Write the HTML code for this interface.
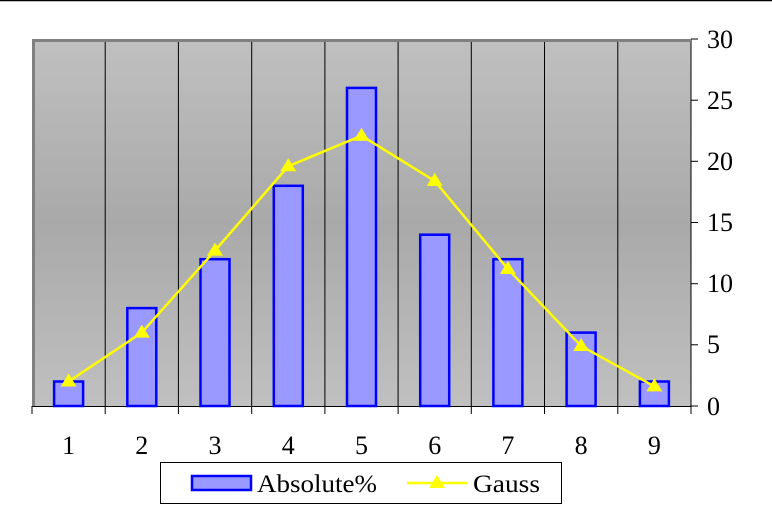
<!DOCTYPE html>
<html><head><style>body{margin:0;background:#fff}svg{display:block}</style></head><body>
<svg width="772" height="511" xmlns="http://www.w3.org/2000/svg" font-family="Liberation Serif, serif">
<defs><linearGradient id="g" x1="0" y1="0" x2="0" y2="1">
<stop offset="0" stop-color="#c0c0c0"/><stop offset="0.5" stop-color="#a9a9a9"/><stop offset="1" stop-color="#c0c0c0"/></linearGradient></defs>
<line x1="0" y1="0.5" x2="772" y2="0.5" stroke="#000" stroke-width="1.5"/>
<rect x="32" y="39" width="659" height="367" fill="url(#g)"/>
<g stroke="#000" stroke-width="1">
<line x1="105.2" y1="39" x2="105.2" y2="414"/><line x1="178.4" y1="39" x2="178.4" y2="414"/>
<line x1="251.7" y1="39" x2="251.7" y2="414"/><line x1="324.9" y1="39" x2="324.9" y2="414"/>
<line x1="398.1" y1="39" x2="398.1" y2="414"/><line x1="471.3" y1="39" x2="471.3" y2="414"/>
<line x1="544.5" y1="39" x2="544.5" y2="414"/><line x1="617.8" y1="39" x2="617.8" y2="414"/>
<line x1="32" y1="406" x2="32" y2="414"/><line x1="691" y1="406" x2="691" y2="414"/>
<line x1="32" y1="406.5" x2="691" y2="406.5"/>
<line x1="691" y1="39" x2="691" y2="407"/>
<line x1="691" y1="39" x2="698" y2="39"/><line x1="691" y1="100.2" x2="698" y2="100.2"/>
<line x1="691" y1="161.3" x2="698" y2="161.3"/><line x1="691" y1="222.5" x2="698" y2="222.5"/>
<line x1="691" y1="283.7" x2="698" y2="283.7"/><line x1="691" y1="344.8" x2="698" y2="344.8"/>
<line x1="691" y1="406" x2="698" y2="406"/>
</g>
<path d="M33.5 406 V40.5 H691" fill="none" stroke="#808080" stroke-width="3"/>
<g fill="#9999ff" stroke="#0000ff" stroke-width="2.5">
<rect x="54.1" y="381.5" width="29" height="24.5"/>
<rect x="127.3" y="308.1" width="29" height="97.9"/>
<rect x="200.5" y="259.2" width="29" height="146.8"/>
<rect x="273.8" y="185.8" width="29" height="220.2"/>
<rect x="347" y="87.9" width="29" height="318.1"/>
<rect x="420.2" y="234.7" width="29" height="171.3"/>
<rect x="493.4" y="259.2" width="29" height="146.8"/>
<rect x="566.6" y="332.6" width="29" height="73.4"/>
<rect x="639.9" y="381.5" width="29" height="24.5"/>
</g>
<polyline fill="none" stroke="#ffff00" stroke-width="2.5" points="68.6,381.5 141.8,332.6 215,250.6 288.3,166.2 361.5,135.7 434.7,180.9 507.9,269 581.1,346 654.4,386.4"/>
<g fill="#ffff00">
<path d="M68.6 373.5l8 13h-16z"/><path d="M141.8 324.6l8 13h-16z"/><path d="M215 242.6l8 13h-16z"/>
<path d="M288.3 158.2l8 13h-16z"/><path d="M361.5 127.7l8 13h-16z"/><path d="M434.7 172.9l8 13h-16z"/>
<path d="M507.9 261l8 13h-16z"/><path d="M581.1 338l8 13h-16z"/><path d="M654.4 378.4l8 13h-16z"/>
</g>
<g font-size="26" fill="#000">
<g text-anchor="middle">
<text x="68.6" y="454">1</text><text x="141.8" y="454">2</text><text x="215" y="454">3</text>
<text x="288.3" y="454">4</text><text x="361.5" y="454">5</text><text x="434.7" y="454">6</text>
<text x="507.9" y="454">7</text><text x="581.1" y="454">8</text><text x="654.4" y="454">9</text>
</g>
<text x="707" y="48">30</text><text x="707" y="109">25</text><text x="707" y="170">20</text>
<text x="707" y="231">15</text><text x="707" y="292">10</text><text x="707" y="353">5</text><text x="707" y="415">0</text>
</g>
<rect x="160.5" y="462.5" width="401" height="41" fill="#fff" stroke="#000" stroke-width="1"/>
<rect x="192" y="476" width="59" height="14" fill="#9999ff" stroke="#0000ff" stroke-width="2.5"/>
<text x="257" y="492" font-size="25" textLength="120" lengthAdjust="spacingAndGlyphs">Absolute%</text>
<line x1="407" y1="483" x2="467" y2="483" stroke="#ffff00" stroke-width="2.5"/>
<path d="M437 475l8 13h-16z" fill="#ffff00"/>
<text x="473" y="492" font-size="25" textLength="67" lengthAdjust="spacingAndGlyphs">Gauss</text>
</svg>
</body></html>
